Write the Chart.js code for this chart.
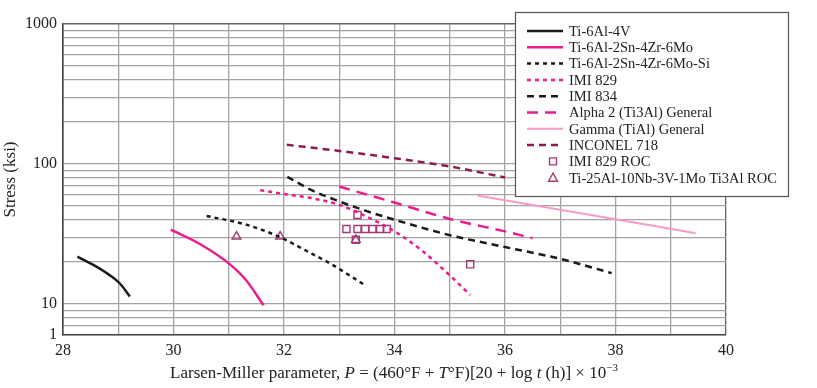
<!DOCTYPE html>
<html>
<head>
<meta charset="utf-8">
<script src="https://cdn.jsdelivr.net/npm/chart.js@4"></script>
<style>
  html, body { margin: 0; padding: 0; background: #fff; }
  #wrap { position: relative; width: 817px; height: 388px; }
  #xtitle {
    position: absolute; left: 394px; top: 361px; transform: translateX(-50%);
    font: 17px "Liberation Serif", serif; white-space: nowrap; color: #222;
  }
  #xtitle sup { font-size: 11px; }
</style>
</head>
<body>
<div id="wrap">
  <canvas id="chart" width="817" height="388"></canvas>
  <div id="xtitle">Larsen-Miller parameter, <i>P</i> = (460°F + <i>T</i>°F)[20 + log <i>t</i> (h)] × 10<sup>−3</sup></div>
</div>
<script>
// axis ticks
const xTicks = [28, 29, 30, 31, 32, 33, 34, 35, 36, 37, 38, 39, 40];
const yGrid = [6, 7, 8, 9, 10, 20, 30, 40, 50, 60, 70, 80, 90, 100,
  200, 300, 400, 500, 600, 700, 800, 900, 1000];
const yLabels = { 6: "1", 10: "10", 100: "100", 1000: "1000" };

// curves (P, stress ksi)
const ti64X = [28.26, 28.55, 28.85, 29.03, 29.21];
const ti64Y = [21.8, 19.0, 16.0, 14.0, 11.3];

const ti6246X = [29.95, 30.5, 31.0, 31.3, 31.63];
const ti6246Y = [34, 26.5, 19.5, 15, 9.8];

const ti6246SiX = [30.6, 31.3, 31.93, 32.4, 32.83, 33.48];
const ti6246SiY = [42.5, 37, 30, 24, 19.5, 13.5];

const imi829X = [31.57, 32.0, 32.5, 33.0, 33.5, 34.0, 34.5, 35.0, 35.37];
const imi829Y = [65, 61, 57, 51, 42, 33, 24, 16, 11.6];

const imi834X = [32.06, 32.5, 33.0, 33.5, 34.0, 35.0, 36.0, 37.0, 37.93];
const imi834Y = [81, 65, 54, 46, 40, 31, 25.5, 21, 16.6];

const alpha2X = [33.0, 34.0, 35.0, 36.0, 36.5];
const alpha2Y = [69, 53, 40.5, 33, 29.5];

const gammaX = [35.5, 38.0, 39.45];
const gammaY = [59.5, 40.3, 32];

const inconelX = [32.05, 33.0, 34.0, 35.0, 36.0];
const inconelY = [137, 124, 110, 96, 80];

// rupture points
const imi829RocX = [33.33, 33.13, 33.33, 33.47, 33.6, 33.74, 33.86, 33.3, 35.37];
const imi829RocY = [43.2, 34.3, 34.3, 34.3, 34.3, 34.3, 34.3, 28.7, 19.2];

const ti3AlRocX = [31.14, 31.93, 33.3];
const ti3AlRocY = [30.3, 30.3, 28.7];

const pts = (xs, ys) => xs.map((x, i) => ({ x, y: ys[i] }));

const BLACK = "#1b1b1b";
const PINK = "#ec1c8c";
const LIGHT_PINK = "#f39cc7";
const PLUM = "#8c1b52";
const MARK = "#a33a78";

function curve(label, xs, ys, color, dash, width) {
  return {
    label,
    data: pts(xs, ys),
    showLine: true,
    borderColor: color,
    backgroundColor: color,
    borderWidth: width || 2.5,
    borderDash: dash,
    pointRadius: 0,
    cubicInterpolationMode: "monotone",
    fill: false,
  };
}

function marks(label, xs, ys, style) {
  return {
    label,
    data: pts(xs, ys),
    showLine: false,
    pointStyle: style,
    pointRadius: 5,
    borderWidth: 1.4,
    borderColor: MARK,
    backgroundColor: "rgba(0,0,0,0)",
  };
}

const datasets = [
  curve("Ti-6Al-4V", ti64X, ti64Y, BLACK, []),
  curve("Ti-6Al-2Sn-4Zr-6Mo", ti6246X, ti6246Y, PINK, []),
  curve("Ti-6Al-2Sn-4Zr-6Mo-Si", ti6246SiX, ti6246SiY, BLACK, [4, 4]),
  curve("IMI 829", imi829X, imi829Y, PINK, [4, 4]),
  curve("IMI 834", imi834X, imi834Y, BLACK, [7, 5]),
  curve("Alpha 2 (Ti3Al) General", alpha2X, alpha2Y, PINK, [11, 7]),
  curve("Gamma (TiAl) General", gammaX, gammaY, LIGHT_PINK, [], 2),
  curve("INCONEL 718", inconelX, inconelY, PLUM, [7, 5]),
  marks("IMI 829 ROC", imi829RocX, imi829RocY, "rect"),
  marks("Ti-25Al-10Nb-3V-1Mo Ti3Al ROC", ti3AlRocX, ti3AlRocY, "triangle"),
];

// legend box drawn over the plot, like the figure
const boxLegend = {
  id: "boxLegend",
  afterDraw(chart) {
    const ctx = chart.ctx;
    const left = 515, top = 12, w = 273, h = 184;
    const rowStart = 31, rowStep = 16.3;
    ctx.save();
    ctx.fillStyle = "#fff";
    ctx.fillRect(left, top, w, h);
    ctx.strokeStyle = "#555";
    ctx.lineWidth = 1.2;
    ctx.strokeRect(left + 0.5, top + 0.5, w, h);
    ctx.font = '14.5px "Liberation Serif", serif';
    ctx.textBaseline = "middle";
    chart.data.datasets.forEach((ds, i) => {
      const y = rowStart + i * rowStep;
      ctx.strokeStyle = ds.borderColor;
      if (ds.showLine) {
        ctx.lineWidth = ds.borderWidth;
        ctx.setLineDash(ds.borderDash || []);
        ctx.beginPath();
        ctx.moveTo(527, y);
        ctx.lineTo(563, y);
        ctx.stroke();
      } else {
        ctx.setLineDash([]);
        ctx.lineWidth = 1.4;
        ctx.beginPath();
        if (ds.pointStyle === "rect") {
          ctx.rect(549.5, y - 3.5, 7, 7);
        } else {
          ctx.moveTo(553, y - 4.5);
          ctx.lineTo(557.5, y + 3.5);
          ctx.lineTo(548.5, y + 3.5);
          ctx.closePath();
        }
        ctx.stroke();
      }
      ctx.fillStyle = "#222";
      ctx.fillText(ds.label, 569, y + 1);
    });
    ctx.restore();
  },
};

const gridGray = "#a3a3a3";

new Chart(document.getElementById("chart"), {
  type: "scatter",
  data: { datasets },
  options: {
    responsive: false,
    animation: false,
    layout: { padding: { top: 24, right: 91, left: 0, bottom: 0 } },
    plugins: {
      legend: { display: false },
      tooltip: { enabled: false },
    },
    scales: {
      x: {
        type: "linear",
        min: 28,
        max: 40,
        afterBuildTicks: (scale) => {
          scale.ticks = xTicks.map((v) => ({ value: v }));
        },
        afterFit: (scale) => {
          scale.height = 53;
        },
        grid: {
          color: (c) => (c.tick && c.tick.value === 40 ? "#666" : gridGray),
          lineWidth: 1.3,
          drawTicks: false,
        },
        border: { color: "#444", width: 1.6 },
        ticks: {
          autoSkip: false,
          maxRotation: 0,
          padding: 6,
          color: "#222",
          font: { family: "Liberation Serif", size: 16 },
          callback: (v) => (v % 2 === 0 ? String(v) : ""),
        },
      },
      y: {
        type: "logarithmic",
        min: 6,
        max: 1000,
        afterBuildTicks: (scale) => {
          scale.ticks = yGrid.map((v) => ({ value: v }));
        },
        afterFit: (scale) => {
          scale.width = 63;
        },
        grid: {
          color: (c) => (c.tick && c.tick.value === 1000 ? "#666" : gridGray),
          lineWidth: (c) => (c.tick && c.tick.value === 1000 ? 1.6 : 1.3),
          drawTicks: false,
        },
        border: { color: "#444", width: 1.6 },
        title: {
          display: true,
          text: "Stress (ksi)",
          color: "#222",
          padding: { top: 0, bottom: 0 },
          font: { family: "Liberation Serif", size: 17 },
        },
        ticks: {
          autoSkip: false,
          padding: 6,
          color: "#222",
          font: { family: "Liberation Serif", size: 16 },
          callback: (v) => yLabels[v] || "",
        },
      },
    },
  },
  plugins: [boxLegend],
});
</script>
</body>
</html>
